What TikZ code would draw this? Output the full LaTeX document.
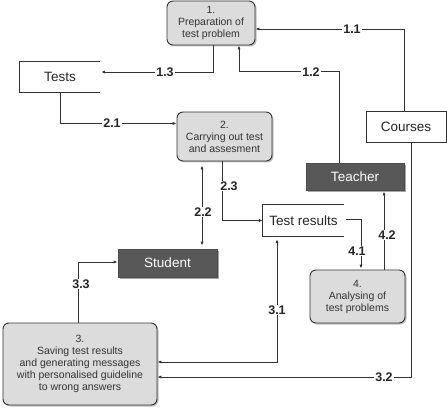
\documentclass[tikz,border=0pt]{standalone}
\usepackage{fontspec}
\setmainfont{Liberation Sans}
\usetikzlibrary{arrows.meta,shadows}
\definecolor{boxgray}{HTML}{DCDCDC}
\definecolor{darkbox}{HTML}{585858}
\definecolor{linec}{HTML}{333333}
\tikzset{
  proc/.style={draw=linec, line width=0.9pt, fill=boxgray, rounded corners=6pt, align=center,
    font=\fontsize{10.5}{12}\selectfont, text=black!80, inner sep=1pt,
    drop shadow={shadow xshift=1.5pt, shadow yshift=-1.5pt, opacity=0.25, fill=black}},
  actor/.style={draw=black!70, line width=0.8pt, fill=darkbox, text=white,
    font=\fontsize{13.5}{15}\selectfont, inner sep=1pt,
    drop shadow={shadow xshift=2pt, shadow yshift=-2pt, opacity=0.35, fill=black}},
  store/.style={font=\fontsize{13.5}{15}\selectfont, text=black!85, inner sep=1pt},
  rect/.style={draw=linec, line width=0.8pt, fill=white, font=\fontsize{13.5}{15}\selectfont, text=black!85, inner sep=1pt},
  conn/.style={draw=linec, line width=0.8pt},
  arr/.style={conn, -{Latex[length=4pt,width=3.2pt]}},
  darr/.style={conn, {Latex[length=4pt,width=3.2pt]}-{Latex[length=4pt,width=3.2pt]}},
  lbl/.style={fill=white, font=\bfseries\fontsize{12.5}{14}\selectfont, text=black!85, inner sep=1pt},
}
\begin{document}
\begin{tikzpicture}[x=1pt,y=-1pt]
\useasboundingbox[fill=white] (0,0) rectangle (447,414);
% processes
\node[proc, minimum width=88pt, minimum height=44pt] (n1) at (211,23) {1.\\Preparation of\\test problem};
\node[proc, minimum width=95pt, minimum height=49pt] (n2) at (224.5,136.5) {2.\\Carrying out test\\and assesment};
\node[proc, minimum width=154pt, minimum height=82pt] (n3) at (80,364) {3.\\Saving test results\\and generating messages\\with personalised guideline\\to wrong answers};
\node[proc, minimum width=95pt, minimum height=53pt] (n4) at (357.5,296.5) {4.\\Analysing of\\test problems};
% actors
\node[actor, minimum width=98pt, minimum height=27pt] (teacher) at (355,176.5) {Teacher};
\node[actor, minimum width=99pt, minimum height=28pt] (student) at (167.5,263) {Student};
% courses
\node[rect, minimum width=80pt, minimum height=31pt] (courses) at (406,126.5) {Courses};
% data stores
\node[store, minimum width=80pt, minimum height=30pt] (tests) at (60,77) {Tests};
\draw[conn] (tests.north east) -- (tests.north west) -- (tests.south west) -- (tests.south east);
\node[store, minimum width=81pt, minimum height=31pt] (tr) at (303.5,220.5) {Test results};
\draw[conn] (tr.north east) -- (tr.north west) -- (tr.south west) -- (tr.south east);
% connectors
\draw[arr] ([xshift=-2pt]courses.north) |- ([yshift=-6pt]n1.east);
\draw[arr] ([xshift=-16pt]teacher.north) -- ++(0,-91) -| ([xshift=28pt]n1.south);
\draw[arr] ([xshift=2pt]n1.south) |- ([yshift=5pt,xshift=1pt]tests.east);
\draw[arr] (tests.south) |- ([yshift=13pt]n2.west);
\draw[arr] ([xshift=-2.5pt]n2.south) |- (tr.west);
\draw[darr, shorten <=4pt, shorten >=3pt] ([xshift=-22.5pt]n2.south) -- ([xshift=-22.5pt]n2.south |- student.north);
\draw[arr] ([xshift=-2pt]n3.north) |- ([yshift=1pt]student.west);
\draw[darr, shorten <=3pt] ([xshift=-26.5pt]tr.south) |- ([yshift=2pt]n3.east);
\draw[arr] ([xshift=5pt]courses.south) |- ([yshift=-13pt]n3.east);
\coordinate (trout) at ([xshift=2pt,yshift=1.5pt]tr.east);
\draw[arr, shorten >=1pt] (trout) -| ([xshift=3.5pt]n4.north);
\draw[arr, shorten >=1pt] ([xshift=26.5pt]n4.north) -- ([xshift=26.5pt]n4.north |- teacher.south);
% labels
\node[lbl] at (352,29) {1.1};
\node[lbl] at (165,72) {1.3};
\node[lbl] at (311,72) {1.2};
\node[lbl] at (112,123) {2.1};
\node[lbl] at (229,186) {2.3};
\node[lbl] at (203,212) {2.2};
\node[lbl] at (81,284) {3.3};
\node[lbl] at (277,310) {3.1};
\node[lbl] at (384,377) {3.2};
\node[lbl] at (357,251) {4.1};
\node[lbl] at (387,235) {4.2};
\end{tikzpicture}
\end{document}
